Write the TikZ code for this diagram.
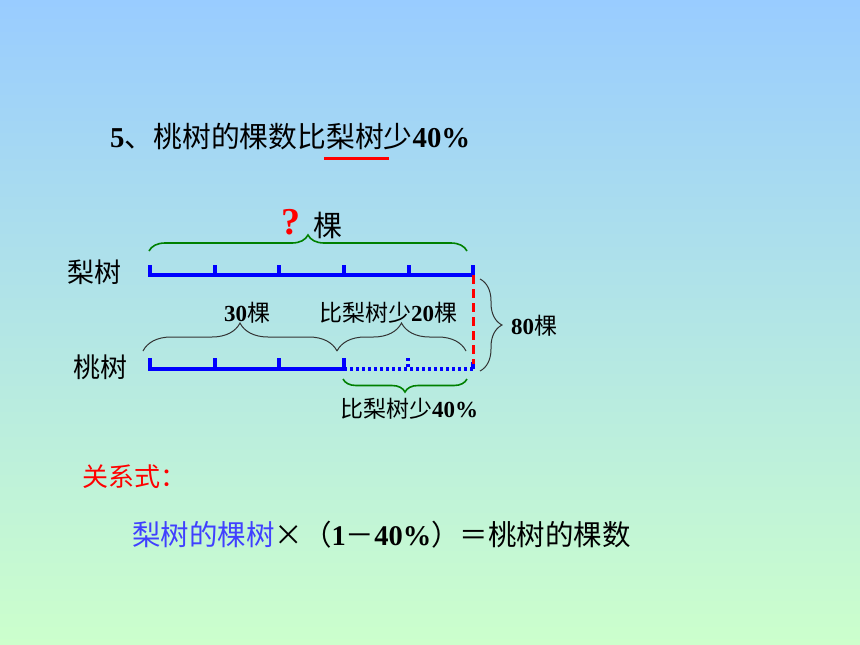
\documentclass[tikz,border=0pt]{standalone}
\usepackage{fontspec}
\setmainfont{Liberation Serif}
\newfontfamily\zh{Noto Sans CJK SC}
\usetikzlibrary{decorations.pathreplacing}
\definecolor{bgtop}{RGB}{153,204,255}
\definecolor{bgbot}{RGB}{204,255,204}
\definecolor{bracegreen}{RGB}{0,128,0}
\definecolor{formblue}{RGB}{64,64,255}
\newcommand{\fsz}[1]{\fontsize{#1}{#1}\selectfont}
\begin{document}
\begin{tikzpicture}[x=1pt,y=-1pt,
  txt/.style={inner sep=0pt, anchor=west},
  barline/.style={blue, line width=3.5pt},
  dotline/.style={blue, line width=3.5pt, dash pattern=on 3pt off 3pt},
  reddash/.style={red, line width=3pt, dash pattern=on 9pt off 5pt},
  gbrace/.style={bracegreen, line width=1.6pt, decorate, decoration={brace, amplitude=#1}},
  kbrace/.style={black!80, line width=1pt, decorate, decoration={brace, amplitude=#1}}]
\shade[top color=bgtop, bottom color=bgbot] (0,0) rectangle (860,645);
\useasboundingbox (0,0) rectangle (860,645);

% title
\node[txt] (title) at (110,137) {\fsz{28.8}\textbf{5}{\zh 、桃树的棵数比梨树少}\textbf{40\%}};
\coordinate (ul1) at (324,158);
\coordinate (ul2) at (389,158);
\draw[red, line width=3pt] (ul1) -- (ul2);

% labels
\node[txt] (li) at (67,272) {\fsz{27}\zh 梨树};
\node[txt] (tao) at (73,367) {\fsz{27}\zh 桃树};

% top bar
\coordinate (a0) at (150,275); \coordinate (a0t) at (150,265);
\coordinate (a1) at (215,275); \coordinate (a1t) at (215,265);
\coordinate (a2) at (279,275); \coordinate (a2t) at (279,265);
\coordinate (a3) at (344,275); \coordinate (a3t) at (344,265);
\coordinate (a4) at (409,275); \coordinate (a4t) at (409,265);
\coordinate (a5) at (473,275); \coordinate (a5t) at (473,265);
\draw[barline] (a0t) -- (a0) -- (a5) -- (a5t);
\foreach \i in {1,2,3,4} \draw[barline] (a\i t) -- (a\i);

% bottom bar
\coordinate (b0) at (150,369); \coordinate (b0t) at (150,358);
\coordinate (b1) at (215,369); \coordinate (b1t) at (215,358);
\coordinate (b2) at (279,369); \coordinate (b2t) at (279,358);
\coordinate (b3) at (344,369); \coordinate (b3t) at (344,358);
\coordinate (b4) at (408,369); \coordinate (b4t) at (408,358);
\coordinate (b5) at (473,369); \coordinate (b5t) at (473,362);
\draw[barline] (b0t) -- (b0) -- (b3) -- (b3t);
\draw[barline] (b1t) -- (b1);
\draw[barline] (b2t) -- (b2);
\draw[dotline] (b3) -- (b5);
\draw[dotline] (b4t) -- (b4);
\draw[blue, line width=3.5pt] (b5t) -- (b5);

% red dashed
\coordinate (rd) at (473,364);
\draw[reddash] (a5) -- (rd);

% top green brace
\coordinate (g1) at (149,251); \coordinate (g2) at (467,251);
\draw[gbrace=16pt] (g1) -- (g2);
\node[red, inner sep=0pt] (q) at (291,222) {\fsz{38}\textbf{?}};
\node[inner sep=0pt] (ke) at (328,225) {\fsz{29}\zh 棵};

% black braces
\coordinate (k1) at (143,351); \coordinate (k2) at (337,351); \coordinate (k3) at (466,351);
\draw[kbrace=28pt] (k1) -- (k2);
\draw[kbrace=28pt] (k2) -- (k3);
\node[inner sep=0pt] (l30) at (247,313) {\fsz{23}\textbf{30}{\zh 棵}};
\node[txt] (l20) at (319,313) {\fsz{23}{\zh 比梨树少}\textbf{20}{\zh 棵}};

% right brace
\coordinate (r1) at (480,279); \coordinate (r2) at (480,371);
\draw[kbrace=22pt] (r1) -- (r2);
\node[txt] (l80) at (511,326) {\fsz{23}\textbf{80}{\zh 棵}};

% bottom green brace
\coordinate (h1) at (467,379); \coordinate (h2) at (343,379);
\draw[gbrace=13pt] (h1) -- (h2);
\node[txt] (l40) at (340,409) {\fsz{23}{\zh 比梨树少}\textbf{40\%}};

% relation
\node[txt, red] (rel) at (82,477) {\fsz{26}\zh 关系式：};
\node[txt] (form) at (132,535) {\fsz{28.5}{\color{formblue}\zh 梨树的棵树}{\zh ×（}\textbf{1}{\zh －}\textbf{40\%}{\zh ）＝桃树的棵数}};
\end{tikzpicture}
\end{document}
